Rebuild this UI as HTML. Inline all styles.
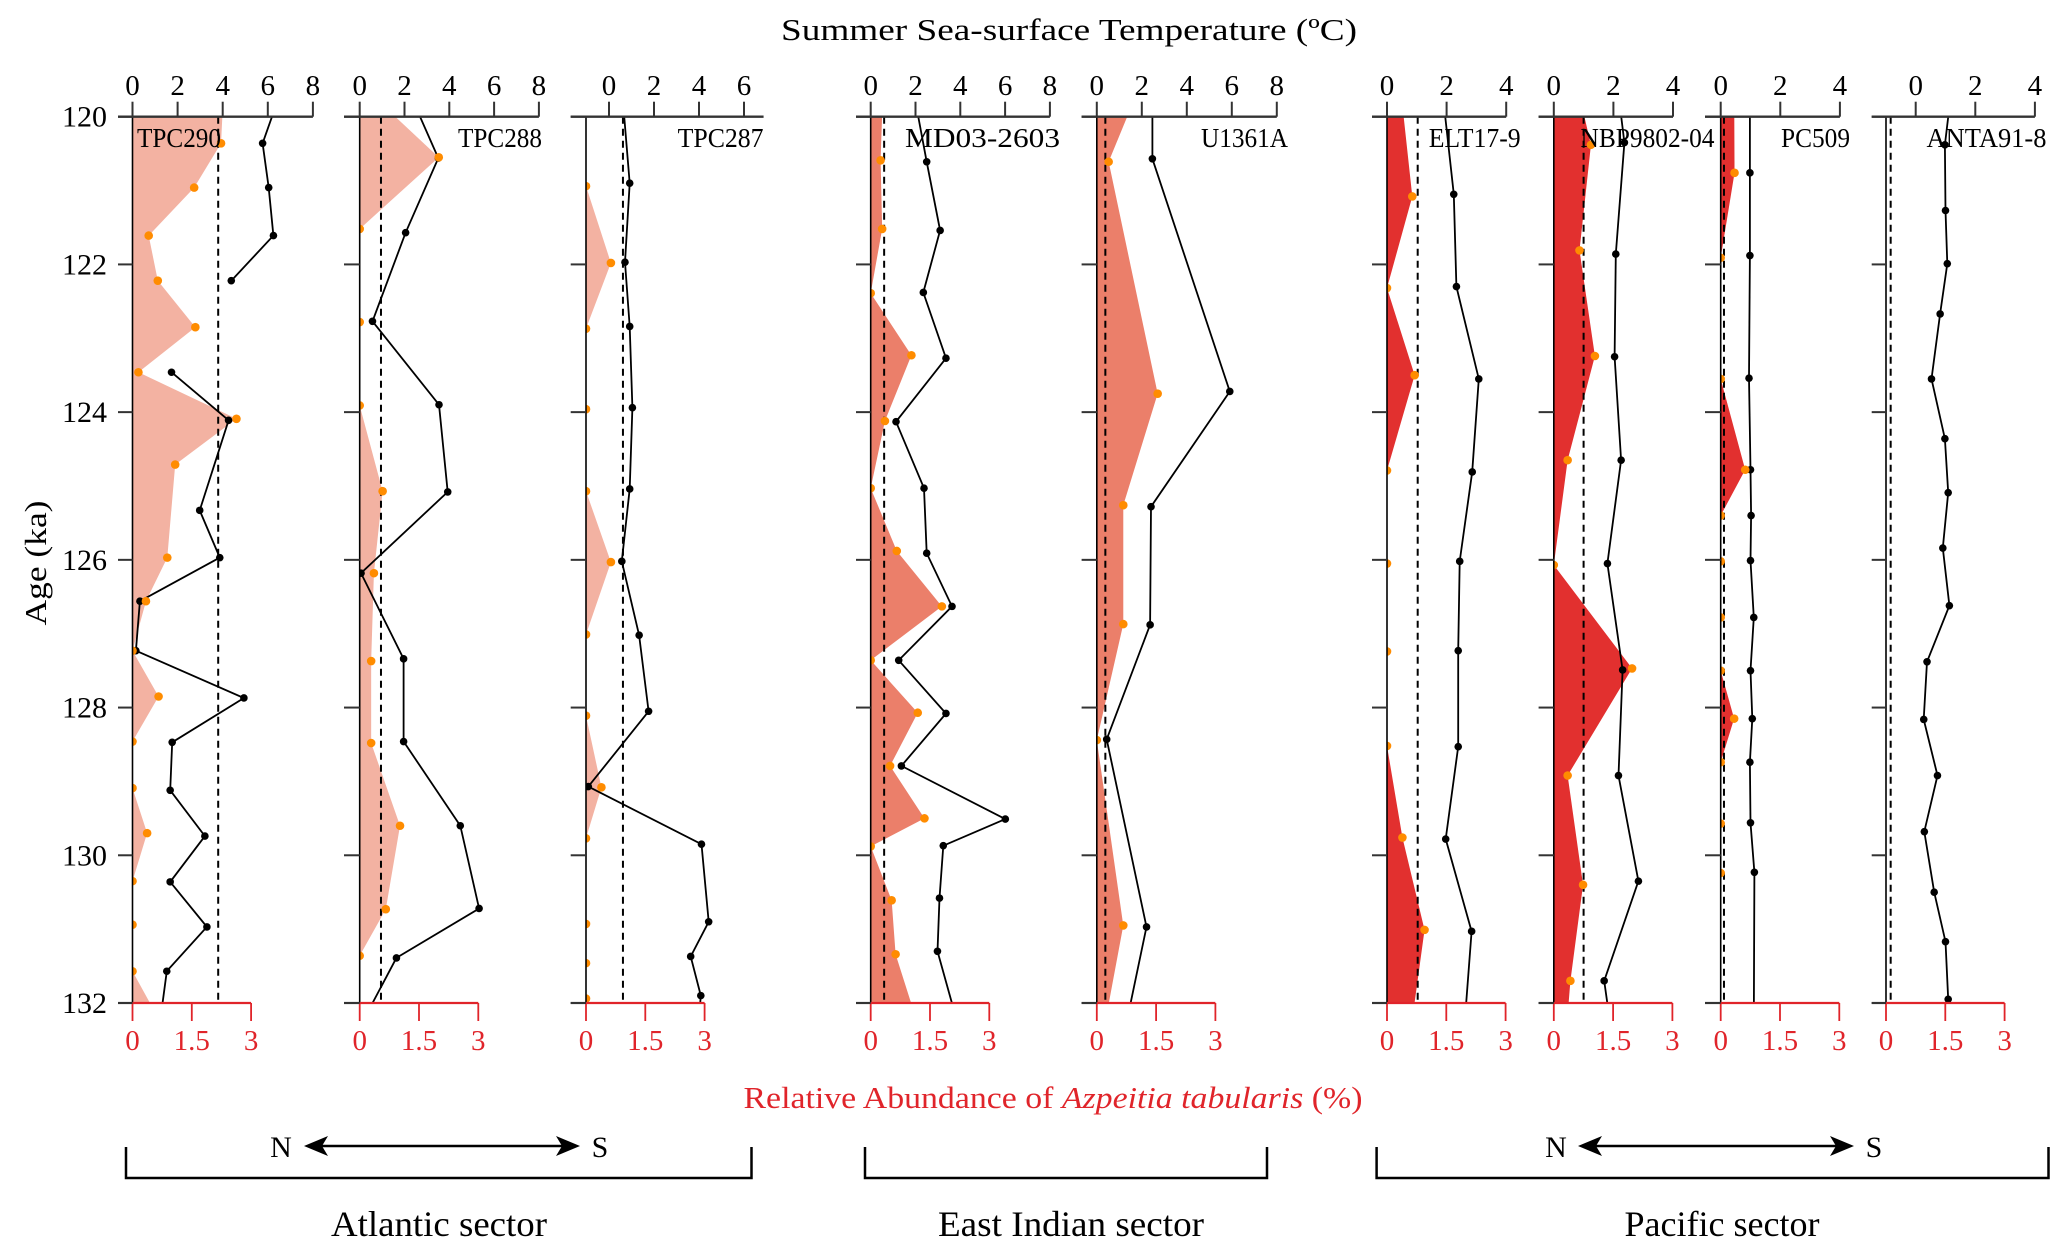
<!DOCTYPE html>
<html><head><meta charset="utf-8">
<style>
html,body{margin:0;padding:0;background:#fff;}
svg{display:block;font-family:"Liberation Serif",serif;}
</style></head>
<body>
<svg id="chart" width="2067" height="1251" viewBox="0 0 2067 1251" xmlns="http://www.w3.org/2000/svg">
<text x="1069" y="40" font-size="31" text-anchor="middle" textLength="576" lengthAdjust="spacingAndGlyphs">Summer Sea-surface Temperature (ºC)</text>
<text x="1053" y="1108" font-size="31" fill="#e0242a" text-anchor="middle" textLength="619" lengthAdjust="spacingAndGlyphs">Relative Abundance of <tspan font-style="italic">Azpeitia tabularis</tspan> (%)</text>
<text x="0" y="0" font-size="31" text-anchor="middle" transform="translate(46,563) rotate(-90)" textLength="125" lengthAdjust="spacingAndGlyphs">Age (ka)</text>
<g id="panels"></g>
<g stroke="#000" fill="none">
  <path d="M126,1147 V1178 H751.5 V1147" stroke-width="2.5"/>
  <path d="M865,1147 V1178 H1267 V1147" stroke-width="2.5"/>
  <path d="M1376.6,1147 V1178 H2048.5 V1147" stroke-width="2.5"/>
  <line x1="312" y1="1146" x2="572" y2="1146" stroke-width="2.5"/>
  <path d="M304,1146 L328,1136 L322,1146 L328,1156 Z" fill="#000" stroke="none"/>
  <path d="M580,1146 L556,1136 L562,1146 L556,1156 Z" fill="#000" stroke="none"/>
  <line x1="1586" y1="1146" x2="1846" y2="1146" stroke-width="2.5"/>
  <path d="M1578,1146 L1602,1136 L1596,1146 L1602,1156 Z" fill="#000" stroke="none"/>
  <path d="M1854,1146 L1830,1136 L1836,1146 L1830,1156 Z" fill="#000" stroke="none"/>
</g>
<text x="281" y="1157" font-size="30" text-anchor="middle">N</text>
<text x="600" y="1157" font-size="30" text-anchor="middle">S</text>
<text x="1556" y="1157" font-size="30" text-anchor="middle">N</text>
<text x="1874" y="1157" font-size="30" text-anchor="middle">S</text>
<text x="439" y="1236" font-size="36" text-anchor="middle" textLength="216" lengthAdjust="spacingAndGlyphs">Atlantic sector</text>
<text x="1071" y="1236" font-size="36" text-anchor="middle" textLength="266" lengthAdjust="spacingAndGlyphs">East Indian sector</text>
<text x="1722" y="1236" font-size="36" text-anchor="middle" textLength="195" lengthAdjust="spacingAndGlyphs">Pacific sector</text>
</svg>
<script>
// ---- data (age ka, abundance %, SST °C) ----
const ageTicks = [120,122,124,126,128,130,132];
const abTicks = [0,1.5,3];
const abTickLabels = ["0","1.5","3"];

const tpc290AbAge = [119.7,120.36,120.96,121.61,122.22,122.85,123.46,124.09,124.71,125.97,126.56,127.23,127.85,128.46,129.09,129.70,130.35,130.94,131.57,132.3];
const tpc290Ab    = [2.3,2.24,1.56,0.41,0.64,1.59,0.15,2.63,1.08,0.88,0.34,0,0.66,0,0,0.37,0,0,0,0.75];
const tpc290SstAge= [119.9,120.36,120.96,121.61,122.22,null,123.46,124.11,125.33,125.97,126.56,127.23,127.87,128.47,129.12,129.74,130.36,130.97,131.57,132.3];
const tpc290Sst   = [6.3,5.77,6.04,6.25,4.38,null,1.73,4.26,2.98,3.87,0.33,0.15,4.94,1.76,1.67,3.21,1.67,3.30,1.52,1.2];

const tpc288AbAge = [119.6,120.55,121.52,122.78,123.91,125.07,126.18,127.37,128.48,129.60,130.73,131.36];
const tpc288Ab    = [0.1,2.0,0,0,0,0.58,0.36,0.29,0.29,1.02,0.66,0];
const tpc288SstAge= [119.8,120.56,121.57,122.77,123.90,125.08,126.18,127.34,128.46,129.60,130.72,131.39,132.3];
const tpc288Sst   = [2.4,3.51,2.05,0.57,3.54,3.93,0.06,1.96,1.96,4.49,5.33,1.64,0.05];

const tpc287AbAge = [120.94,121.98,122.87,123.96,125.07,126.03,127.01,128.11,129.08,129.77,130.93,131.46,131.94];
const tpc287Ab    = [0,0.63,0,0,0,0.63,0,0,0.39,0,0,0,0];
const tpc287SstAge= [119.8,120.9,121.97,122.84,123.94,125.04,126.02,127.02,128.05,129.07,129.85,130.90,131.37,131.9,132.2];
const tpc287Sst   = [0.62,0.92,0.71,0.92,1.04,0.92,0.57,1.34,1.76,-0.92,4.11,4.43,3.63,4.08,4.0];

const md03AbAge = [119.8,120.59,121.52,122.39,123.23,124.12,125.03,125.88,126.63,127.36,128.07,128.79,129.50,129.88,130.61,131.34,132.3];
const md03Ab    = [0.3,0.25,0.29,0,1.03,0.36,0,0.66,1.80,0,1.19,0.49,1.36,0,0.53,0.63,1.2];
const md03SstAge= [119.8,120.61,121.54,122.38,123.27,124.13,125.03,125.91,126.63,127.36,128.08,128.79,129.51,129.87,130.58,131.30,132.3];
const md03Sst   = [2.0,2.5,3.1,2.35,3.36,1.13,2.38,2.5,3.63,1.25,3.36,1.37,6.01,3.24,3.07,2.98,3.9];

const u1361AbAge = [119.7,120.61,123.75,125.26,126.87,128.44,130.95,132.3];
const u1361Ab    = [1.0,0.30,1.54,0.67,0.67,0,0.67,0.2];
const u1361SstAge= [119.8,120.57,123.72,125.28,126.88,128.43,130.97,132.3];
const u1361Sst   = [2.47,2.47,5.91,2.41,2.37,0.44,2.21,1.3];

const elt179AbAge = [119.5,121.08,122.32,123.50,124.79,126.05,127.24,128.52,129.76,131.01,132.3];
const elt179Ab    = [0.32,0.64,0,0.70,0,0,0,0,0.39,0.95,0.62];
const elt179SstAge= [119.8,121.05,122.30,123.55,124.81,126.02,127.23,128.53,129.78,131.03,132.3];
const elt179Sst   = [1.9,2.24,2.33,3.08,2.86,2.44,2.39,2.39,1.97,2.84,2.6];

const nbpAbAge = [119.6,120.38,121.81,123.24,124.65,126.07,127.47,128.92,130.40,131.70,132.3];
const nbpAb    = [0.6,0.94,0.65,1.04,0.35,0,1.98,0.35,0.74,0.42,0.33];
const nbpSstAge= [119.8,120.35,121.86,123.25,124.65,126.05,127.49,128.92,130.35,131.70,132.3];
const nbpSst   = [2.2,2.37,2.08,2.04,2.26,1.80,2.31,2.17,2.84,1.69,1.9];

const pc509AbAge = [119.5,120.76,121.91,123.55,124.78,125.40,126.02,126.78,127.50,128.15,128.74,129.57,130.24];
const pc509Ab    = [0.34,0.35,0,0,0.62,0,0,0,0,0.34,0,0,0];
const pc509SstAge= [119.8,120.76,121.88,123.54,124.78,125.40,126.01,126.78,127.50,128.15,128.74,129.56,130.23,132.3];
const pc509Sst   = [0.98,0.98,0.98,0.95,1.0,1.02,1.0,1.11,1.0,1.06,0.98,1.0,1.13,1.11];

const antaAbAge = [];
const antaAb    = [];
const antaSstAge= [119.8,120.38,121.27,121.99,122.67,123.55,124.36,125.09,125.84,126.62,127.38,128.16,128.92,129.68,130.50,131.17,131.95];
const antaSst   = [1.15,0.98,1.0,1.06,0.82,0.53,0.98,1.09,0.91,1.13,0.38,0.27,0.73,0.29,0.62,1.0,1.09];

const dashSst = [3.8,0.95,0.62,0.6,0.38,1.03,1.0,0.11,-0.84];

// ---- layout ----
const Y0 = 116.7, Y1 = 1003, AGE0 = 120, AGE1 = 132, ABK = 39.53;
function yAge(a){ return Y0 + (a-AGE0)*(Y1-Y0)/(AGE1-AGE0); }
const SALMON="#f3b2a2", CORAL="#eb7f6a", RED="#e2302f";
const panels = [
 {key:"tpc290", name:"TPC290", a0:132.5, t0:132.5, tk:22.55, tTicks:[0,2,4,6,8], tEnd:8, left:118, fill:SALMON, lx:137, anchor:"start", lw:84, abAge:tpc290AbAge, ab:tpc290Ab, sAge:tpc290SstAge, s:tpc290Sst, ylabels:true},
 {key:"tpc288", name:"TPC288", a0:359.7, t0:359.7, tk:22.4, tTicks:[0,2,4,6,8], tEnd:8, left:344, fill:SALMON, lx:542, anchor:"end", lw:84, abAge:tpc288AbAge, ab:tpc288Ab, sAge:tpc288SstAge, s:tpc288Sst},
 {key:"tpc287", name:"TPC287", a0:586, t0:609, tk:22.5, tTicks:[0,2,4,6], tEnd:6.87, left:570.7, fill:SALMON, lx:763.6, anchor:"end", lw:86, abAge:tpc287AbAge, ab:tpc287Ab, sAge:tpc287SstAge, s:tpc287Sst},
 {key:"md03-2603", name:"MD03-2603", a0:870.7, t0:870.7, tk:22.4, tTicks:[0,2,4,6,8], tEnd:8, left:856, fill:CORAL, lx:1060, anchor:"end", lw:155, abAge:md03AbAge, ab:md03Ab, sAge:md03SstAge, s:md03Sst},
 {key:"u1361a", name:"U1361A", a0:1096.8, t0:1096.8, tk:22.5, tTicks:[0,2,4,6,8], tEnd:8, left:1081.6, fill:CORAL, lx:1288, anchor:"end", lw:87, abAge:u1361AbAge, ab:u1361Ab, sAge:u1361SstAge, s:u1361Sst},
 {key:"elt17-9", name:"ELT17-9", a0:1387, t0:1387, tk:29.8, tTicks:[0,2,4], tEnd:4, left:1372, fill:RED, lx:1520.7, anchor:"end", lw:92, abAge:elt179AbAge, ab:elt179Ab, sAge:elt179SstAge, s:elt179Sst},
 {key:"nbp9802-04", name:"NBP9802-04", a0:1553.8, t0:1553.8, tk:29.8, tTicks:[0,2,4], tEnd:4, left:1538.6, fill:RED, lx:1714.5, anchor:"end", lw:134, abAge:nbpAbAge, ab:nbpAb, sAge:nbpSstAge, s:nbpSst},
 {key:"pc509", name:"PC509", a0:1720.7, t0:1720.7, tk:29.8, tTicks:[0,2,4], tEnd:4, left:1705, fill:RED, lx:1850, anchor:"end", lw:69, abAge:pc509AbAge, ab:pc509Ab, sAge:pc509SstAge, s:pc509Sst},
 {key:"anta91-8", name:"ANTA91-8", a0:1886, t0:1915.7, tk:29.8, tTicks:[0,2,4], tEnd:4, left:1871.7, fill:RED, lx:2046.5, anchor:"end", lw:120, abAge:antaAbAge, ab:antaAb, sAge:antaSstAge, s:antaSst}
];

const NS = "http://www.w3.org/2000/svg";
const root = document.getElementById("panels");
const defs = document.createElementNS(NS,"defs");
root.appendChild(defs);
function mk(tag, attrs, parent){
  const e = document.createElementNS(NS, tag);
  for (const k in attrs) e.setAttribute(k, attrs[k]);
  parent.appendChild(e);
  return e;
}

panels.forEach((p, i) => {
  const xT = v => p.t0 + v*p.tk;
  const xA = v => p.a0 + v*ABK;
  const g = mk("g", {}, root);
  
  

  const cp = mk("clipPath", {id:"clip"+i}, defs);
  mk("rect", {x:p.a0, y:Y0, width:400, height:Y1-Y0}, cp);
  const plot = mk("g", {"clip-path":"url(#clip"+i+")"}, g);
  
  

  if (p.ab.length){
    let pts = [[xA(0), yAge(p.abAge[0])]];
    p.ab.forEach((v,j)=>pts.push([xA(v), yAge(p.abAge[j])]));
    pts.push([xA(0), yAge(p.abAge[p.abAge.length-1])]);
    const poly = mk("polygon", {points: pts.map(q=>q.join(",")).join(" "), fill:p.fill, stroke:"none"}, plot);
    
    
  }
  const dl = mk("line", {x1:xT(dashSst[i]), x2:xT(dashSst[i]), y1:Y0, y2:Y1, stroke:"#000", "stroke-width":2, "stroke-dasharray":"7,5"}, plot);
  
  

  let d = "", pen = false;
  p.sAge.forEach((a,j)=>{
    const v = p.s[j];
    if (a === null || v === null){ pen = false; return; }
    d += (pen ? "L" : "M") + xT(v).toFixed(1) + "," + yAge(a).toFixed(1);
    pen = true;
  });
  const sl = mk("path", {d:d, fill:"none", stroke:"#000", "stroke-width":1.8}, plot);
  
  
  p.sAge.forEach((a,j)=>{
    if (a === null) return;
    const c = mk("circle", {cx:xT(p.s[j]), cy:yAge(a), r:3.8, fill:"#000"}, plot);
    
    
  });
  p.abAge.forEach((a,j)=>{
    const c = mk("circle", {cx:xA(p.ab[j]), cy:yAge(a), r:4.3, fill:"#ff8c00"}, plot);
    
    
  });

  const zl = mk("line", {x1:p.a0, x2:p.a0, y1:Y0, y2:Y1, stroke:"#000", "stroke-width":1.6}, g);
  
  

  const ta = mk("line", {x1:p.left, x2:xT(p.tEnd), y1:Y0, y2:Y0, stroke:"#333", "stroke-width":2.4}, g);
  
  
  p.tTicks.forEach(t=>{
    const tl = mk("line", {x1:xT(t), x2:xT(t), y1:Y0, y2:Y0-15, stroke:"#333", "stroke-width":2}, g);
    
    
    const tx = mk("text", {x:xT(t), y:95, "font-size":29, "text-anchor":"middle"}, g);
    
    
    tx.textContent = String(t);
  });

  const ba = mk("line", {x1:p.a0, x2:xA(3), y1:Y1, y2:Y1, stroke:"#e0242a", "stroke-width":2.2}, g);
  
  
  const bl = mk("line", {x1:p.left, x2:p.a0, y1:Y1, y2:Y1, stroke:"#333", "stroke-width":2.2}, g);
  
  
  abTicks.forEach((t,k)=>{
    const tl = mk("line", {x1:xA(t), x2:xA(t), y1:Y1, y2:Y1+18, stroke:"#e0242a", "stroke-width":1.8}, g);
    
    
    const tx = mk("text", {x:xA(t), y:1050, "font-size":29, "text-anchor":"middle", fill:"#e0242a"}, g);
    
    
    tx.textContent = abTickLabels[k];
  });

  ageTicks.forEach(a=>{
    const tl = mk("line", {x1:p.left, x2:p.a0, y1:yAge(a), y2:yAge(a), stroke:"#333", "stroke-width":2}, g);
    
    
    if (p.ylabels){
      const tx = mk("text", {x:107, y:yAge(a)+10, "font-size":30, "text-anchor":"end"}, g);
      
      
      tx.textContent = String(a);
    }
  });

  const lb = mk("text", {x:p.lx, y:147, "font-size":27, "text-anchor":p.anchor, textLength:p.lw, lengthAdjust:"spacingAndGlyphs"}, g);
  
  
  lb.textContent = p.name;
});
</script>
</body></html>
